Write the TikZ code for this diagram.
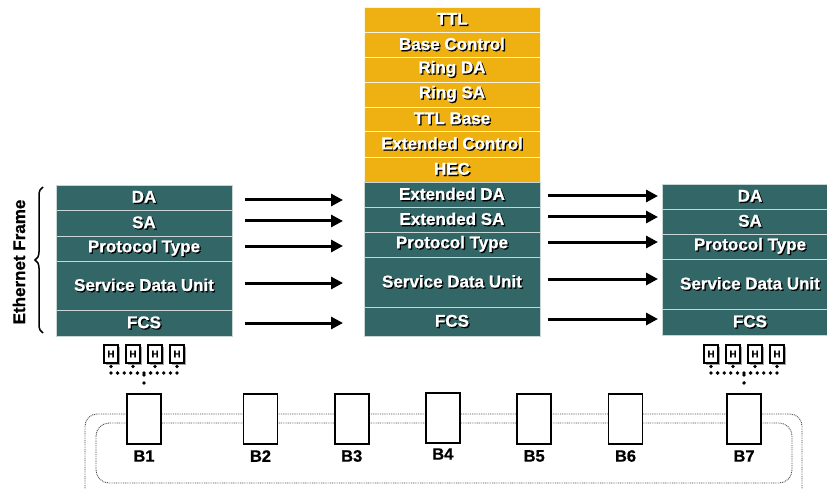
\documentclass[tikz,border=0pt]{standalone}
\usepackage{fontspec}
\setmainfont{Liberation Sans}[BoldFeatures={FakeBold=0.8}]
\usetikzlibrary{arrows.meta,decorations.pathreplacing,decorations.markings,shadows}
\definecolor{fteal}{HTML}{336666}
\definecolor{fgold}{HTML}{EEB111}
\definecolor{sepc}{HTML}{C8D6D6}
\newcommand\shd[1]{\rlap{\kern1.3pt\raisebox{-1.3pt}{\color{black}#1}}{\color{white}#1}}
\tikzset{
  fieldrow/.style={anchor=north west, inner sep=0pt, outer sep=0pt, minimum width=176pt,
    draw=sepc, line width=0.9pt, font=\bfseries\fontsize{17}{20}\selectfont},
  tealrow/.style={fieldrow, fill=fteal},
  goldrow/.style={fieldrow, fill=fgold, draw=white!85!fgold},
  arr/.style={line width=3pt, -{Triangle[length=12pt,width=12pt]}},
  bbox/.style={draw, line width=1.8pt, fill=white, minimum width=34pt, minimum height=50pt, inner sep=0pt},
  blab/.style={font=\bfseries\fontsize{16.5}{18}\selectfont},
  hbox/.style={draw, line width=1.1pt, fill=white, minimum width=14pt, minimum height=18pt, inner sep=0pt,
    font=\bfseries\fontsize{10}{11}\selectfont,
    drop shadow={shadow xshift=1.5pt, shadow yshift=-1.5pt, fill=gray!70, opacity=1}},
  dotchain/.style={decorate, decoration={markings,
    mark=between positions 0 and 1 step #1 with {\fill[black] (0pt,0pt) circle[radius=1.9pt];}}},
  ring/.style={draw=gray!60!black, line width=0.9pt, dash pattern=on 0.9pt off 0.9pt}
}
\begin{document}
\begin{tikzpicture}[x=1pt,y=-1pt]
\useasboundingbox (0,0) rectangle (827,489);
% rings
\draw[ring, rounded corners=12pt] (85,495) -- (85,414) -- (802,414) -- (802,495);
\draw[ring, rounded corners=13pt] (96,423) rectangle (792,483);
% left frame
\node[tealrow, minimum height=25pt] (lda) at (56,185) {\shd{DA}};
\node[tealrow, minimum height=26pt] (lsa) at (56,210) {\shd{SA}};
\node[tealrow, minimum height=25pt] (lpt) at (56,236) {\shd{Protocol Type}};
\node[tealrow, minimum height=49pt] (lsdu) at (56,261) {\shd{Service Data Unit}};
\node[tealrow, minimum height=26pt] (lfcs) at (56,310) {\shd{FCS}};
% middle frame
\node[goldrow, minimum height=25pt] (mttl) at (364,7) {\shd{TTL}};
\node[goldrow, minimum height=25pt] (mbc) at (364,32) {\shd{Base Control}};
\node[goldrow, minimum height=25pt] (mrda) at (364,57) {\shd{Ring DA}};
\node[goldrow, minimum height=25pt] (mrsa) at (364,82) {\shd{Ring SA}};
\node[goldrow, minimum height=24pt] (mttlb) at (364,107) {\shd{TTL Base}};
\node[goldrow, minimum height=26pt] (mec) at (364,131) {\shd{Extended Control}};
\node[goldrow, minimum height=25pt] (mhec) at (364,157) {\shd{HEC}};
\node[tealrow, minimum height=25pt] (mda) at (364,182) {\shd{Extended DA}};
\node[tealrow, minimum height=25pt] (msa) at (364,207) {\shd{Extended SA}};
\node[tealrow, minimum height=25pt] (mpt) at (364,232) {\shd{Protocol Type}};
\node[tealrow, minimum height=50pt] (msdu) at (364,257) {\shd{Service Data Unit}};
\node[tealrow, minimum height=29pt] (mfcs) at (364,307) {\shd{FCS}};
% right frame
\node[tealrow, minimum height=25pt] (rda) at (662,184) {\shd{DA}};
\node[tealrow, minimum height=25pt] (rsa) at (662,209) {\shd{SA}};
\node[tealrow, minimum height=25pt] (rpt) at (662,234) {\shd{Protocol Type}};
\node[tealrow, minimum height=50pt] (rsdu) at (662,259) {\shd{Service Data Unit}};
\node[tealrow, minimum height=26pt] (rfcs) at (662,309) {\shd{FCS}};
% left arrows
\draw[arr, shorten <=13pt, shorten >=21pt] ([yshift=-2.5pt]lda.east) -- ([yshift=-2.5pt]lda.east -| mda.west);
\draw[arr, shorten <=13pt, shorten >=21pt] ([yshift=2pt]lsa.east) -- ([yshift=2pt]lsa.east -| msa.west);
\draw[arr, shorten <=13pt, shorten >=21pt] ([yshift=2.5pt]lpt.east) -- ([yshift=2.5pt]lpt.east -| mpt.west);
\draw[arr, shorten <=13pt, shorten >=21pt] ([yshift=2.5pt]lsdu.east) -- ([yshift=2.5pt]lsdu.east -| msdu.west);
\draw[arr, shorten <=13pt, shorten >=21pt] (lfcs.east) -- (lfcs.east -| mfcs.west);
% right arrows
\draw[arr, shorten <=8pt, shorten >=4pt] ([yshift=-1.5pt]mda.east) -- ([yshift=-1.5pt]mda.east -| rda.west);
\draw[arr, shorten <=8pt, shorten >=4pt] ([yshift=2.5pt]msa.east) -- ([yshift=2.5pt]msa.east -| rsa.west);
\draw[arr, shorten <=8pt, shorten >=4pt] ([yshift=2.5pt]mpt.east) -- ([yshift=2.5pt]mpt.east -| rpt.west);
\draw[arr, shorten <=8pt, shorten >=4pt] ([yshift=3pt]msdu.east) -- ([yshift=3pt]msdu.east -| rsdu.west);
\draw[arr, shorten <=8pt, shorten >=4pt] ([yshift=2.5pt]mfcs.east) -- ([yshift=2.5pt]mfcs.east -| rfcs.west);
% brace and label
\draw[line width=1.5pt, decorate, decoration={brace, amplitude=8pt}] (43,333) -- (43,187);
\node[rotate=90, font=\bfseries\fontsize{17}{20}\selectfont] (eth) at (19,262) {Ethernet Frame};
% bridges
\foreach \n/\x in {1/144,2/260.5,3/351.7,5/534.2,6/625.5,7/744}{
  \node[bbox] (b\n) at (\x,419) {};
  \node[blab] (bl\n) at (\x,456) {B\n};
}
\node[bbox, line width=2pt] (b4) at (442.8,418) {};
\node[blab] (bl4) at (442.8,454) {B4};
% header boxes
\foreach \i/\x in {1/111,2/133,3/155,4/177}{
  \node[hbox] (hl\i) at (\x,354) {H};
  \node[hbox] (hr\i) at (\x+600,354) {H};
}
\coordinate (busl1) at (111,373);
\coordinate (busl2) at (177.3,373);
\coordinate (busr1) at (711,373);
\coordinate (busr2) at (777.3,373);
\coordinate (jl) at (144,375);
\coordinate (jr) at (744,375);
\foreach \i in {1,2,3,4}{
  \path[dotchain=6.9pt] ([yshift=-3pt]hl\i.south) -- (hl\i.south |- busl1);
  \path[dotchain=6.9pt] ([yshift=-3pt]hr\i.south) -- (hr\i.south |- busr1);
}
\path[dotchain=6.6pt] (busl1) -- (busl2);
\path[dotchain=6.6pt] (busr1) -- (busr2);
\path[dotchain=7.9pt] (jl) -- ([yshift=3pt]b1.north);
\path[dotchain=7.9pt] (jr) -- ([yshift=3pt]b7.north);
\end{tikzpicture}
\end{document}
